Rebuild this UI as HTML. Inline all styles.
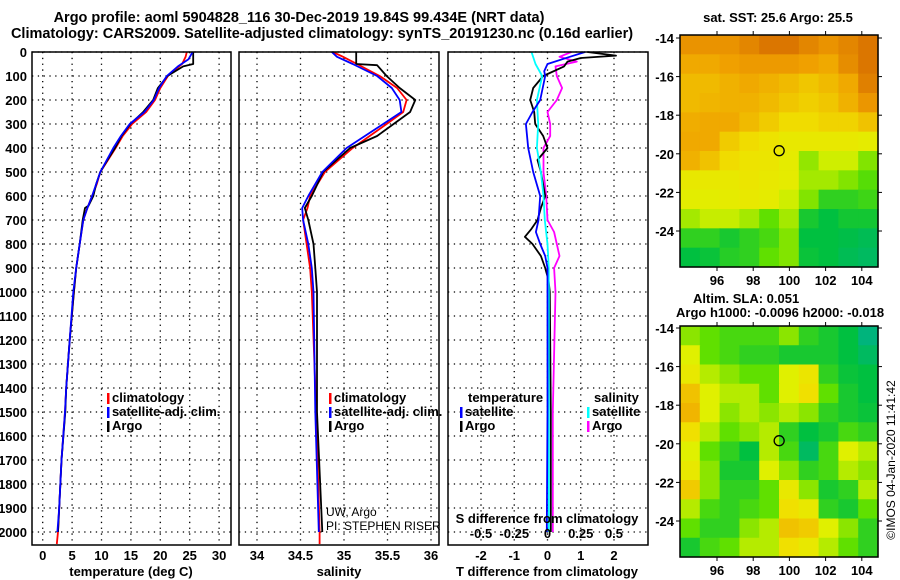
<!DOCTYPE html>
<html><head><meta charset="utf-8"><style>
body{margin:0;background:#fff;}
svg{display:block;font-family:"Liberation Sans",Arial,sans-serif;}
.t{font-weight:bold;font-size:13px;fill:#000;}
.ti{font-weight:bold;font-size:14.5px;fill:#000;}
</style></head><body>
<svg id="chart" width="900" height="580" viewBox="0 0 900 580">
<rect width="900" height="580" fill="#fff"/>
<text class="ti" x="299" y="22" text-anchor="middle">Argo profile: aoml 5904828_116 30-Dec-2019 19.84S 99.434E (NRT data)</text>
<text class="ti" x="322" y="38" text-anchor="middle">Climatology: CARS2009. Satellite-adjusted climatology: synTS_20191230.nc (0.16d earlier)</text>
<g id="g"></g>
</svg>
<script>
// ---- depth axis ----
const depthTicks=[0,100,200,300,400,500,600,700,800,900,1000,1100,1200,1300,1400,1500,1600,1700,1800,1900,2000];
// ---- temperature panel ----
const tempTicks=[0,5,10,15,20,25,30];
const tArgoDepth=[0,50,60,100,150,200,250,300,350,400,450,500,550,600,640,650,700,800,900,1000,1200,1400,1500,1700,1900,2000];
const tArgo=[25.6,25.6,23.9,21.2,19.6,18.8,17.1,14.9,13.4,12.3,11.0,9.8,9.1,8.6,7.8,7.2,6.8,6.3,5.7,5.3,4.6,4.0,3.85,3.2,2.8,2.6];
const tClimDepth=[0,20,50,100,150,200,250,300,350,400,450,500,550,600,650,700,800,900,1000,1200,1400,1500,1700,1900,2000,2050];
const tClim=[24.5,24.3,23.7,21.3,20.0,19.1,17.6,15.2,13.6,12.4,11.1,9.8,9.2,8.4,7.6,6.9,6.3,5.7,5.3,4.6,4.0,3.8,3.2,2.8,2.6,2.4];
const tSatDepth=[0,30,60,100,150,200,250,300,350,400,450,500,550,600,650,700,800,900,1000,1200,1400,1500,1700,1900,2000];
const tSat=[25.5,24.8,23.0,21.1,19.8,18.9,17.3,14.8,13.3,12.0,10.9,9.8,9.1,8.4,7.6,6.9,6.3,5.7,5.2,4.6,4.0,3.8,3.2,2.8,2.5];
// ---- salinity panel ----
const salTicks=[34,34.5,35,35.5,36];
const salTickLabels=["34","34.5","35","35.5","36"];
const sArgoDepth=[0,50,55,100,150,200,250,300,350,400,500,600,650,700,800,900,1000,1500,2000];
const sArgo=[35.14,35.14,35.38,35.49,35.64,35.82,35.76,35.57,35.38,35.07,34.76,34.63,34.55,34.59,34.65,34.67,34.69,34.69,34.75];
const sClimDepth=[0,20,50,100,150,200,250,300,400,500,600,650,700,800,900,1000,1100,1500,2000,2050];
const sClim=[34.87,34.99,35.15,35.41,35.61,35.72,35.68,35.49,35.10,34.78,34.61,34.58,34.53,34.57,34.61,34.63,34.64,34.68,34.72,34.72];
const sSatDepth=[0,20,50,100,150,200,250,300,400,500,600,650,700,800,900,1000,1500,2000];
const sSat=[34.86,34.92,35.10,35.38,35.55,35.64,35.66,35.45,35.03,34.75,34.59,34.52,34.53,34.59,34.63,34.65,34.67,34.71];
// ---- difference panel ----
const dtTicks=[-2,-1,0,1,2];
const dsTicks=[-0.5,-0.25,0,0.25,0.5];
const dsTickLabels=["-0.5","-0.25","0","0.25","0.5"];
const dtArgoDepth=[0,15,25,40,60,100,150,200,250,300,350,400,450,500,600,650,700,740,770,800,850,900,950,1000,1500,2000];
const dtArgo=[1.2,2.06,1.0,0.6,0.5,-0.13,-0.43,-0.52,-0.4,-0.37,-0.13,0.0,-0.3,-0.2,-0.07,-0.2,-0.3,-0.5,-0.68,-0.45,-0.2,-0.07,0.03,0.07,0.1,0.1];
const dtSatDepth=[0,20,50,80,100,200,250,300,400,500,600,700,750,800,850,900,1000,1500,2000];
const dtSat=[1.13,0.67,0.0,-0.1,-0.07,-0.22,-0.45,-0.65,-0.58,-0.43,-0.22,-0.27,-0.35,-0.22,-0.07,0.0,0.0,0.0,-0.02];
const dsSatDepth=[0,50,100,200,300,400,500,600,700,800,900,1000,1500,2000];
const dsSat=[-0.12,-0.09,-0.04,-0.08,-0.07,-0.08,-0.05,-0.03,-0.02,0.0,0.01,0.01,0.01,0.01];
const dsArgoDepth=[0,20,40,60,100,150,200,250,300,350,400,500,600,700,750,800,850,900,1000,1500,2000];
const dsArgo=[0.18,0.09,0.22,0.06,0.07,0.11,0.07,0.0,0.02,0.02,-0.03,-0.03,-0.01,0.0,0.05,0.07,0.09,0.05,0.06,0.04,0.04];
// ---- maps ----
const lonTicks=[96,98,100,102,104];
const latTicks=[-14,-16,-18,-20,-22,-24];
const sstGrid=[
[.84,.84,.84,.88,.93,.93,.88,.84,.88,.93],
[.78,.78,.8,.82,.82,.82,.8,.78,.86,.93],
[.74,.74,.76,.78,.76,.74,.71,.74,.78,.9],
[.74,.75,.76,.76,.74,.71,.69,.71,.76,.83],
[.77,.78,.78,.74,.7,.66,.66,.68,.68,.72],
[.78,.78,.7,.66,.63,.6,.6,.6,.6,.58],
[.76,.72,.66,.63,.62,.58,.46,.53,.53,.44],
[.6,.6,.6,.62,.6,.58,.48,.48,.44,.38],
[.57,.57,.58,.6,.58,.53,.44,.3,.3,.33],
[.48,.52,.52,.48,.4,.48,.25,.2,.24,.24],
[.3,.3,.25,.3,.35,.44,.2,.2,.18,.15],
[.2,.22,.28,.3,.4,.44,.22,.2,.15,.12]];
const slaGrid=[
[.45,.4,.35,.35,.35,.45,.3,.25,.2,.05],
[.55,.4,.35,.3,.3,.25,.25,.25,.2,.12],
[.6,.5,.45,.4,.4,.55,.62,.3,.22,.2],
[.72,.55,.5,.5,.4,.55,.65,.4,.25,.2],
[.75,.55,.45,.5,.45,.5,.45,.3,.25,.22],
[.65,.5,.4,.45,.5,.3,.2,.25,.35,.3],
[.55,.4,.3,.2,.5,.35,.12,.35,.55,.5],
[.6,.45,.25,.25,.55,.45,.3,.35,.5,.45],
[.7,.45,.3,.3,.4,.6,.45,.25,.3,.5],
[.5,.35,.3,.35,.4,.65,.6,.3,.25,.4],
[.4,.3,.3,.45,.5,.72,.7,.55,.45,.3],
[.25,.35,.4,.5,.5,.65,.6,.5,.4,.3]];
const argoLon=99.434, argoLat=-19.84;

const NS="http://www.w3.org/2000/svg";
const G=document.getElementById('g');
function mk(tag,attrs,parent,txt){const e=document.createElementNS(NS,tag);for(const k in attrs)e.setAttribute(k,attrs[k]);if(txt!==undefined)e.textContent=txt;(parent||G).appendChild(e);return e;}
const Y0=52, PXM=0.24, YB=545;
const yD=d=>Y0+d*PXM;
const panels=[
 {x0:32,x1:231,sx:v=>42.7+5.88*v,name:'temperature-panel'},
 {x0:239,x1:439,sx:v=>257+87*(v-34),name:'salinity-panel'},
 {x0:448,x1:648,sx:v=>547.5+33.25*v,name:'difference-panel'}];
const sxS=v=>547.5+133*v;
panels.forEach((p,i)=>{
 const grp=mk('g',{});
 
 
 p.g=grp;
 depthTicks.forEach(d=>{
  const l=mk('line',{x1:p.x0,x2:p.x1,y1:yD(d),y2:yD(d),stroke:'#000','stroke-width':1.3,'stroke-dasharray':'1.3 4.5'},grp);
  
  
 });
 const ticks=i===0?tempTicks:i===1?salTicks:dtTicks;
 ticks.forEach(v=>{
  const l=mk('line',{x1:p.sx(v),x2:p.sx(v),y1:Y0,y2:YB,stroke:'#000','stroke-width':1.3,'stroke-dasharray':'1.3 4.5'},grp);
  
  
 });
});
depthTicks.forEach(d=>{
 const t=mk('text',{class:'t',x:27,y:yD(d)+5,'text-anchor':'end'},G,String(d));
 
 
});
function series(p,xf,ds,vs,color,name){
 const pts=ds.map((d,k)=>xf(vs[k]).toFixed(1)+','+yD(d).toFixed(1)).join(' ');
 const l=mk('polyline',{points:pts,fill:'none',stroke:color,'stroke-width':1.8,'stroke-linejoin':'round'},p.g);
 
 
}
const P=panels;
series(P[0],P[0].sx,tClimDepth,tClim,'#ff0000','temp-climatology-line');
series(P[0],P[0].sx,tArgoDepth,tArgo,'#000','temp-argo-line');
series(P[0],P[0].sx,tSatDepth,tSat,'#0000ff','temp-satellite-line');
series(P[1],P[1].sx,sClimDepth,sClim,'#ff0000','sal-climatology-line');
series(P[1],P[1].sx,sArgoDepth,sArgo,'#000','sal-argo-line');
series(P[1],P[1].sx,sSatDepth,sSat,'#0000ff','sal-satellite-line');
series(P[2],sxS,dsArgoDepth,dsArgo,'#ff00ff','sal-diff-argo-line');
series(P[2],P[2].sx,dtArgoDepth,dtArgo,'#000','temp-diff-argo-line');
series(P[2],sxS,dsSatDepth,dsSat,'#00ffff','sal-diff-satellite-line');
series(P[2],P[2].sx,dtSatDepth,dtSat,'#0000ff','temp-diff-satellite-line');
P.forEach(p=>{
 const r=mk('rect',{x:p.x0,y:Y0,width:p.x1-p.x0,height:YB-Y0,fill:'none',stroke:'#000','stroke-width':1.5},p.g);
 
 
});
tempTicks.forEach(v=>{const t=mk('text',{class:'t',x:P[0].sx(v),y:560,'text-anchor':'middle'},G,String(v));
 });
salTicks.forEach((v,k)=>{const t=mk('text',{class:'t',x:P[1].sx(v),y:560,'text-anchor':'middle'},G,salTickLabels[k]);
 });
dtTicks.forEach(v=>{const t=mk('text',{class:'t',x:P[2].sx(v),y:560,'text-anchor':'middle'},G,String(v));
 });
dsTicks.forEach((v,k)=>{const t=mk('text',{class:'t',x:sxS(v),y:538,'text-anchor':'middle'},G,dsTickLabels[k]);
 });
function txt(x,y,s,name,extra){const t=mk('text',Object.assign({class:'t',x:x,y:y},extra||{}),G,s);
 return t;}
txt(131,576,'temperature (deg C)','temp-axis-title',{'text-anchor':'middle'});
txt(339,576,'salinity','salinity-axis-title',{'text-anchor':'middle'});
txt(547,576,'T difference from climatology','tdiff-axis-title',{'text-anchor':'middle'});
txt(547,523,'S difference from climatology','sdiff-axis-title',{'text-anchor':'middle'});
function leg(x,y,color,label,name){
 const m=mk('rect',{x:x,y:y-9,width:2.5,height:11,fill:color},G);
 
 txt(x+5,y,label,name);
}
leg(107,402,'#ff0000','climatology','legend-climatology');
leg(107,416,'#0000ff','satellite-adj. clim.','legend-satellite');
leg(107,430,'#000','Argo','legend-argo');
leg(329,402,'#ff0000','climatology','legend2-climatology');
leg(329,416,'#0000ff','satellite-adj. clim.','legend2-satellite');
leg(329,430,'#000','Argo','legend2-argo');
txt(468,402,'temperature','legend-temperature-heading');
leg(460,416,'#0000ff','satellite','legend-t-satellite');
leg(460,430,'#000','Argo','legend-t-argo');
txt(594,402,'salinity','legend-salinity-heading');
leg(587,416,'#00ffff','satellite','legend-s-satellite');
leg(587,430,'#ff00ff','Argo','legend-s-argo');
txt(326,516,'UW, Argo','pi-institution',{style:'font-weight:normal;font-size:12px'});
txt(326,530,'PI: STEPHEN RISER','pi-name',{style:'font-weight:normal;font-size:12px'});
const stops=[[0,[0,176,144]],[0.2,[0,192,64]],[0.4,[96,224,0]],[0.55,[224,240,0]],[0.65,[240,224,0]],[0.8,[240,160,0]],[1,[208,96,0]]];
function cmap(v){for(let i=1;i<stops.length;i++){if(v<=stops[i][0]){const a=stops[i-1],b=stops[i],f=(v-a[0])/(b[0]-a[0]);
 return 'rgb('+a[1].map((c,k)=>Math.round(c+(b[1][k]-c)*f)).join(',')+')';}}return 'rgb(208,96,0)';}
function drawMap(grid,x0,x1,yTop,yBot,lat14y,lat24y,name){
 const mg=mk('g',{});
 const rows=grid.length,cols=grid[0].length,cw=(x1-x0)/cols,ch=(yBot-yTop)/rows;
 grid.forEach((row,r)=>row.forEach((v,c)=>{
  const e=mk('rect',{x:x0+c*cw,y:yTop+r*ch,width:cw+0.6,height:ch+0.6,fill:cmap(v)},mg);
  
 }));
 const lx=lon=>717+18.1*(lon-96);
 const ly=lat=>lat14y+(lat24y-lat14y)*(lat+14)/-10;
 const fr=mk('rect',{x:x0,y:yTop,width:x1-x0,height:yBot-yTop,fill:'none',stroke:'#000','stroke-width':1.5},mg);
 
 lonTicks.forEach(l=>{mk('line',{x1:lx(l),x2:lx(l),y1:yBot,y2:yBot+4,stroke:'#000'},mg);mk('line',{x1:lx(l),x2:lx(l),y1:yTop,y2:yTop-4,stroke:'#000'},mg);
  txt(lx(l),yBot+18,String(l),'lon-tick-label',{'text-anchor':'middle'});});
 latTicks.forEach(l=>{mk('line',{x1:x0-4,x2:x0,y1:ly(l),y2:ly(l),stroke:'#000'},mg);mk('line',{x1:x1,x2:x1+4,y1:ly(l),y2:ly(l),stroke:'#000'},mg);
  txt(x0-6,ly(l)+5,String(l),'lat-tick-label',{'text-anchor':'end'});});
 const c=mk('circle',{cx:lx(argoLon),cy:ly(argoLat),r:5,fill:'none',stroke:'#000','stroke-width':1.3},mg);
 
}
drawMap(sstGrid,680,878,35,267,38,231,'sst-map');
drawMap(slaGrid,680,878,326,557,328,521,'sla-map');
txt(778,22,'sat. SST: 25.6 Argo: 25.5','sst-map-title',{'text-anchor':'middle'});
txt(693,303,'Altim. SLA: 0.051','sla-map-title');
txt(676,317,'Argo h1000: -0.0096 h2000: -0.018','sla-map-subtitle');
txt(895,460,'©IMOS 04-Jan-2020 11:41:42','imos-credit',{'text-anchor':'middle',transform:'rotate(-90 895 460)',style:'font-weight:normal;font-size:12px'});
</script>
</body></html>
